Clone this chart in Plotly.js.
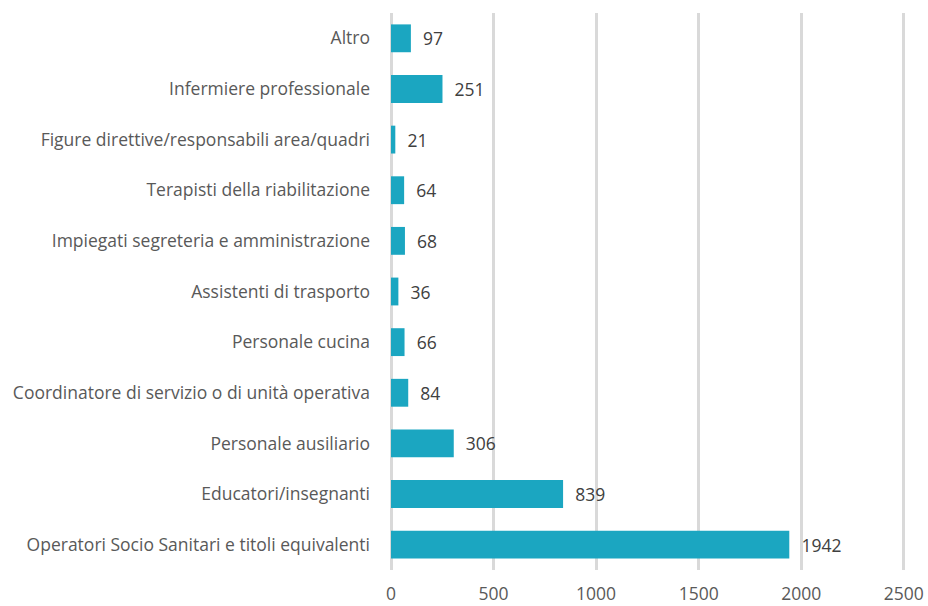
<!DOCTYPE html>
<html>
<head>
<meta charset="utf-8">
<script src="https://cdn.plot.ly/plotly-3.0.1.min.js"></script>
<style>html,body{margin:0;padding:0;background:#fff;}#chart{width:928px;height:606px;}</style>
</head>
<body>
<div id="chart"></div>
<script>
const categories = [
  "Altro",
  "Infermiere professionale",
  "Figure direttive/responsabili area/quadri",
  "Terapisti della riabilitazione",
  "Impiegati segreteria e amministrazione",
  "Assistenti di trasporto",
  "Personale cucina",
  "Coordinatore di servizio o di unità operativa",
  "Personale ausiliario",
  "Educatori/insegnanti",
  "Operatori Socio Sanitari e titoli equivalenti"
];
const values = [97, 251, 21, 64, 68, 36, 66, 84, 306, 839, 1942];
const tickVals = [0, 500, 1000, 1500, 2000, 2500];

const FONT = '"Open Sans", Lato, sans-serif';

const trace = {
  type: 'bar',
  orientation: 'h',
  y: categories,
  x: values,
  text: values.map(v => '\u00a0\u00a0' + v),
  textposition: 'outside',
  cliponaxis: false,
  textfont: {family: FONT, size: 17.5, color: '#404040'},
  marker: {color: '#1BA6C1'},
  width: 0.55,
  hoverinfo: 'none'
};

const layout = {
  width: 928, height: 606,
  margin: {l: 391, r: 14, t: 13, b: 36},
  paper_bgcolor: '#fff', plot_bgcolor: '#fff',
  showlegend: false,
  font: {family: FONT, size: 17.5, color: '#595959'},
  xaxis: {
    range: [0, 2550],
    tickvals: tickVals,
    ticktext: tickVals.map(String),
    showgrid: true, gridcolor: '#d9d9d9', gridwidth: 3,
    zeroline: true, zerolinecolor: '#d9d9d9', zerolinewidth: 3,
    showline: false, ticks: '',
    ticklabelstandoff: 11,
    tickfont: {size: 17.5, color: '#595959'},
    fixedrange: true
  },
  yaxis: {
    autorange: 'reversed',
    showgrid: false, zeroline: false, showline: false,
    ticks: '', ticklen: 0,
    ticklabelstandoff: 20,
    tickfont: {size: 17.5, color: '#595959'},
    fixedrange: true
  }
};

Plotly.newPlot('chart', [trace], layout, {displayModeBar: false, staticPlot: true});
</script>
</body>
</html>
